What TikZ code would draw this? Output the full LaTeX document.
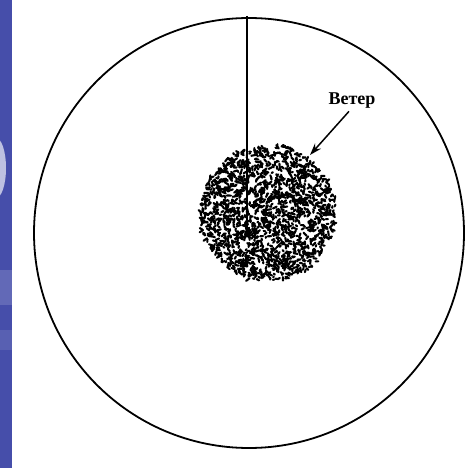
\documentclass[tikz,border=0pt]{standalone}
\usepackage{fontspec}
\setmainfont{Liberation Serif}
\usetikzlibrary{arrows.meta}

\definecolor{slideblue}{RGB}{70,78,170}

\tikzset{
  ring/.style={line width=1.8pt},
  speck/.style={line width=2.1pt, line cap=round},
  windarrow/.style={-{Stealth[length=12pt, width=8pt]}, line width=1.5pt}
}

\begin{document}
\begin{tikzpicture}[x=1pt, y=-1pt]
  \useasboundingbox (0,0) rectangle (469,468);

  % полоса слайда слева
  \fill[slideblue] (0,0) rectangle (12,468);
  \begin{scope}
    \clip (0,0) rectangle (12,468);
    \fill[slideblue!35!white] (-4,168) ellipse (10 and 30);
    \fill[slideblue!85!white] (0,270) rectangle (12,305);
    \fill[slideblue!90!white] (0,330) rectangle (12,350);
  \end{scope}

  % большой круг и вертикальный радиус
  \coordinate (O) at (249,233);
  \coordinate (top) at (247,16);
  \coordinate (hub) at (247,234);
  \draw[ring] (O) circle (215);
  \draw[line width=1.5pt] (top) -- (hub);

  % пятно (точечная заливка)
  \coordinate (blob) at (268,213);
  \pgfmathsetseed{4217}
  \foreach \k in {1,...,1600}{
    \pgfmathsetmacro\rr{68*sqrt(rnd)}
    \pgfmathsetmacro\aa{360*rnd}
    \pgfmathsetmacro\bb{360*rnd}
    \pgfmathsetmacro\ll{1+3.5*rnd}
    \draw[speck, shift={(blob)}] (\aa:\rr) -- ++(\bb:\ll);
  }

  % подпись
  \node[font=\bfseries\fontsize{18}{20}\selectfont] (wind) at (352,101) {Ветер};
  \coordinate (tip) at (310,155);
  \draw[windarrow] (wind.south) ++(-3,-1) coordinate (tail) (tail) -- (tip);
\end{tikzpicture}
\end{document}
